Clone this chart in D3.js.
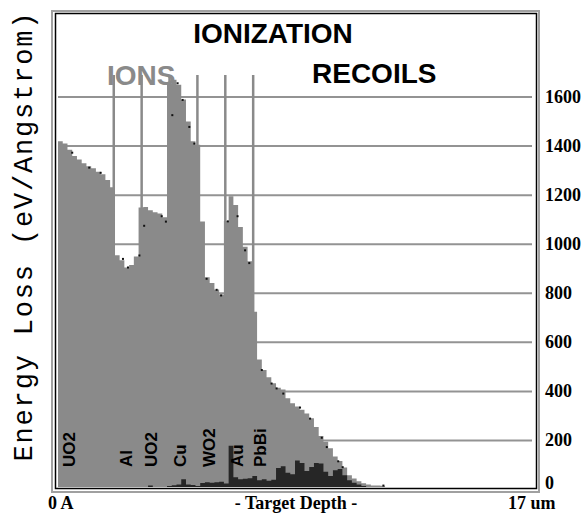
<!DOCTYPE html>
<html>
<head>
<meta charset="utf-8">
<script src="https://cdn.jsdelivr.net/npm/d3@7"></script>
<style>
  body { margin: 0; background: #fff; }
</style>
</head>
<body>
<div id="chart"></div>
<script>
// 100 depth bins from 0 to 17 um, energy loss in eV/Angstrom
const depthMax = 17;
const ionLoss = [
  1420, 1410, 1385, 1360, 1345, 1330, 1318, 1310, 1295, 1285,
  1262, 1232, 955, 935, 905, 915, 950, 1150, 1152, 1138,
  1130, 1125, 1110, 1655, 1670, 1650, 1590, 1500, 1420, 1405,
  1092, 865, 842, 815, 795, 1095, 1195, 1160, 1070, 990,
  930, 725, 530, 487, 458, 433, 415, 408, 372, 352,
  338, 325, 310, 290, 255, 218, 195, 168, 135, 116,
  90, 58, 45, 34, 25, 20, 16, 16, 15, 3,
  0, 0, 0, 0, 0, 0, 0, 0, 0, 0,
  0, 0, 0, 0, 0, 0, 0, 0, 0, 0,
  0, 0, 0, 0, 0, 0, 0, 0, 0, 0
];
const recoilLoss = [
  3, 3, 6, 7, 7, 3, 2, 2, 2, 2,
  2, 2, 3, 4, 7, 6, 4, 5, 8, 16,
  9, 6, 8, 14, 17, 20, 42, 20, 18, 14,
  26, 30, 28, 30, 32, 24, 178, 50, 42, 44,
  46, 55, 38, 42, 36, 40, 88, 95, 68, 62,
  118, 108, 75, 92, 108, 106, 72, 55, 78, 84,
  58, 38, 28, 20, 14, 8, 3, 0, 0, 0,
  0, 0, 0, 0, 0, 0, 0, 0, 0, 0,
  0, 0, 0, 0, 0, 0, 0, 0, 0, 0,
  0, 0, 0, 0, 0, 0, 0, 0, 0, 0
];
// small marker points [depth um, value]
const dotPoints = [
  [0.51, 1373], [1.12, 1312], [1.53, 1291], [2.33, 940], [2.51, 905], [2.92, 954],
  [3.09, 1075], [3.72, 1114], [3.87, 1092], [4.10, 1526], [4.29, 1656], [4.47, 1588],
  [4.71, 1478], [4.89, 1410], [5.33, 859], [5.69, 814], [5.85, 791], [6.09, 1093],
  [6.44, 1114], [6.71, 975], [6.86, 923], [7.31, 487], [7.66, 432], [7.84, 412],
  [8.08, 391], [8.68, 334], [9.04, 289], [9.46, 211], [9.64, 173], [10.05, 115],
  [10.21, 91], [11.67, 16]
];
const layerEdges = [2, 3, 4, 5, 6, 7];
const layerNames = ["UO2", "Al", "UO2", "Cu", "WO2", "Au", "PbBi"];
const layerLabelDepth = [0.43, 2.47, 3.34, 4.38, 5.42, 6.42, 7.25];
const yTicks = [0, 200, 400, 600, 800, 1000, 1200, 1400, 1600];

const gray = "#8a8a8a";

const svg = d3.select("#chart").append("svg")
  .attr("width", 587)
  .attr("height", 513);

const x = d3.scaleLinear().domain([0, depthMax]).range([58, 532]);
const y = d3.scaleLinear().domain([0, 1600]).range([489.5, 97]);
const binW = depthMax / ionLoss.length;

svg.append("clipPath").attr("id", "plotclip")
  .append("rect").attr("x", 57).attr("y", 14).attr("width", 476).attr("height", 473);

// frame (double line)
svg.append("rect")
  .attr("x", 52).attr("y", 11).attr("width", 487).attr("height", 481)
  .attr("fill", "none").attr("stroke", "#a0a0a0").attr("stroke-width", 2);
svg.append("rect")
  .attr("x", 55.5).attr("y", 13.5).attr("width", 481).attr("height", 475)
  .attr("fill", "none").attr("stroke", "#000").attr("stroke-width", 1.5);

const plot = svg.append("g").attr("clip-path", "url(#plotclip)");

// horizontal grid
plot.selectAll(".grid")
  .data(yTicks.filter(d => d > 0))
  .enter().append("line")
  .attr("class", "grid")
  .attr("x1", x(0)).attr("x2", x(depthMax))
  .attr("y1", d => y(d)).attr("y2", d => y(d))
  .attr("stroke", "#939393").attr("stroke-width", 2);

// layer boundaries
plot.selectAll(".edge")
  .data(layerEdges)
  .enter().append("line")
  .attr("class", "edge")
  .attr("x1", d => x(d)).attr("x2", d => x(d))
  .attr("y1", y(1690)).attr("y2", y(0))
  .attr("stroke", gray).attr("stroke-width", 2.5);

function stepPoints(vals) {
  const pts = vals.map((v, i) => ({ d: i * binW, v: v }));
  pts.push({ d: vals.length * binW, v: vals[vals.length - 1] });
  return pts;
}
const area = d3.area()
  .x(d => x(d.d))
  .y0(y(0))
  .y1(d => y(d.v))
  .curve(d3.curveStepAfter);

plot.append("path")
  .datum(stepPoints(ionLoss))
  .attr("d", area)
  .attr("fill", gray);

plot.append("path")
  .datum(stepPoints(recoilLoss))
  .attr("d", area)
  .attr("fill", "#262626");

plot.selectAll(".dot")
  .data(dotPoints)
  .enter().append("rect")
  .attr("class", "dot")
  .attr("x", d => x(d[0]) - 1).attr("y", d => y(d[1]) - 1)
  .attr("width", 2).attr("height", 2)
  .attr("fill", "#111");

// layer names
svg.selectAll(".lname")
  .data(layerNames)
  .enter().append("text")
  .attr("class", "lname")
  .attr("transform", (d, i) => `translate(${x(layerLabelDepth[i])},467) rotate(-90)`)
  .attr("dominant-baseline", "central")
  .style("font-family", "'Liberation Sans', Arial, sans-serif")
  .style("font-weight", "bold")
  .style("font-size", "17px")
  .attr("fill", "#000")
  .text(d => d);

// titles
svg.append("text")
  .attr("x", 273).attr("y", 43)
  .attr("text-anchor", "middle")
  .style("font-family", "'Liberation Sans', Arial, sans-serif")
  .style("font-weight", "bold").style("font-size", "28px")
  .text("IONIZATION");
svg.append("text")
  .attr("x", 107).attr("y", 85)
  .style("font-family", "'Liberation Sans', Arial, sans-serif")
  .style("font-weight", "bold").style("font-size", "28px")
  .attr("fill", gray)
  .text("IONS");
svg.append("text")
  .attr("x", 312).attr("y", 83)
  .style("font-family", "'Liberation Sans', Arial, sans-serif")
  .style("font-weight", "bold").style("font-size", "28px")
  .text("RECOILS");

// y tick labels on the right
svg.selectAll(".ytick")
  .data(yTicks)
  .enter().append("text")
  .attr("class", "ytick")
  .attr("x", 545)
  .attr("y", d => d === 0 ? y(d) - 6.5 : y(d))
  .attr("dominant-baseline", "central")
  .style("font-family", "'Liberation Serif', 'Times New Roman', serif")
  .style("font-weight", "bold").style("font-size", "18px")
  .text(d => d);

// y axis title
svg.append("text")
  .attr("transform", "translate(25,237) rotate(-90)")
  .attr("text-anchor", "middle")
  .attr("dominant-baseline", "central")
  .attr("textLength", 449).attr("lengthAdjust", "spacing")
  .style("font-family", "'Liberation Mono', 'Courier New', monospace")
  .style("font-size", "27px")
  .text("Energy Loss (eV/Angstrom)");

// x labels
const xl = svg.append("g")
  .style("font-family", "'Liberation Serif', 'Times New Roman', serif")
  .style("font-weight", "bold").style("font-size", "18px");
xl.append("text").attr("x", 48).attr("y", 509).text("0 A");
xl.append("text").attr("x", 296).attr("y", 509).attr("text-anchor", "middle").text("- Target Depth -");
xl.append("text").attr("x", 508).attr("y", 509).text("17 um");
</script>
</body>
</html>
